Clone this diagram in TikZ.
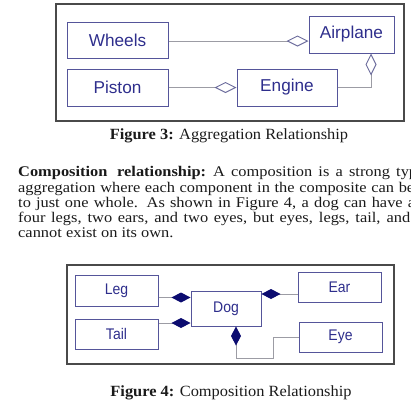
\documentclass[tikz,border=0pt]{standalone}
\usepackage{fontspec}
\setmainfont{Liberation Serif}
\setsansfont{Liberation Sans}
\usetikzlibrary{arrows.meta}
\definecolor{txtc}{HTML}{2E2E8C}
\definecolor{boxc}{HTML}{55559A}
\definecolor{linec}{HTML}{9C9CA4}
\definecolor{diac}{HTML}{6C6C9C}
\definecolor{navy}{HTML}{0C0C70}
\definecolor{framec}{HTML}{4A4A4A}
\definecolor{bodyc}{HTML}{1A1A1A}
\tikzset{
  frame/.style={draw=framec, line width=1.5pt},
  boxA/.style={draw=boxc, line width=1pt, text=txtc, inner sep=0pt,
    font=\fontsize{17.2}{20}\selectfont\sffamily},
  boxB/.style={draw=boxc, line width=1pt, text=txtc, inner sep=0pt,
    font=\fontsize{14}{16}\selectfont\sffamily},
  agg/.style={draw=linec, line width=1pt,
    -{Diamond[open, length=22pt, width=11pt, color=diac, line width=1pt]}},
  comp/.style={draw=linec, line width=1pt,
    -{Diamond[length=19pt, width=10pt, color=navy]}},
  bodyline/.style={anchor=base west, inner sep=0pt, text=bodyc,
    font=\fontsize{16.4}{19}\selectfont},
  caption/.style={anchor=base, inner sep=0pt, text=bodyc,
    font=\fontsize{16.4}{19}\selectfont}
}
\newcommand{\sq}[1]{\scalebox{1}[0.9]{#1}}
\newcommand{\sqc}[1]{\scalebox{1}[0.95]{#1}}
\newcommand{\tl}[1]{\scalebox{1}[1.1]{#1}}
\begin{document}
\begin{tikzpicture}[x=1pt, y=-1pt]
\useasboundingbox (0,0) rectangle (410,418);
% ---------- Figure 3 ----------
\draw[frame] (56,4) rectangle (404,121);
\node[boxA, minimum width=101pt, minimum height=36pt] (wheels) at (117.5,40) {Wheels};
\node[boxA, minimum width=85pt, minimum height=37pt] (airplane) at (351.5,34.5) {Airplane};
\node[boxA, minimum width=101pt, minimum height=37pt] (piston) at (117.5,87.5) {Piston};
\node[boxA, minimum width=100pt, minimum height=37pt] (engine) at (287,87.5) {Engine};
\draw[agg] ([yshift=-1pt]wheels.east) -- ([yshift=-1pt]wheels.east -| airplane.west);
\draw[agg] (piston.east) -- (engine.west);
\draw[agg] (engine.east) -| ([xshift=19.5pt]airplane.south);
\node[caption] (cap3) at (229,139.3) {\sqc{\textbf{Figure 3:} Aggregation Relationship}};
% ---------- Paragraph ----------
\node[bodyline] (l1) at (18,176.8) {\sq{\makebox[399pt][s]{\makebox[188pt][s]{\textbf{Composition relationship:}}\hspace{7pt}A composition is a strong typ}}};
\node[bodyline] (l2) at (18,192.0) {\sq{\makebox[396pt][s]{aggregation where each component in the composite can be}}};
\node[bodyline] (l3) at (18,207.2) {\sq{\makebox[397pt][s]{to just one whole. As shown in Figure 4, a dog can have a}}};
\node[bodyline] (l4) at (18,222.4) {\sq{\makebox[392pt][s]{four legs, two ears, and two eyes, but eyes, legs, tail, and}}};
\node[bodyline] (l5) at (18,237.6) {\sq{cannot exist on its own.}};
% ---------- Figure 4 ----------
\draw[frame] (67,265) rectangle (394,364);
\node[boxB, minimum width=83pt, minimum height=31pt] (leg) at (116.5,290.5) {\tl{Leg}};
\node[boxB, minimum width=83pt, minimum height=30pt] (tail) at (116.5,334) {\tl{Tail}};
\node[boxB, minimum width=70pt, minimum height=35pt] (dog) at (226,308.5) {\tl{Dog}};
\node[boxB, minimum width=83pt, minimum height=30pt] (ear) at (339.5,287) {\tl{Ear}};
\node[boxB, minimum width=83pt, minimum height=30pt] (eye) at (340.5,337) {\tl{Eye}};
\draw[comp] ([yshift=-7pt]leg.east) -- ([yshift=-7pt]leg.east -| dog.west);
\draw[comp] ([yshift=11pt]tail.east) -- ([yshift=11pt]tail.east -| dog.west);
\draw[comp] ([yshift=-7pt]ear.west) -- ([yshift=-7pt]ear.west -| dog.east);
\coordinate (ebend) at (273,358);
\draw[comp] (eye.west) -| (ebend) -| ([xshift=10pt]dog.south);
\node[caption] (cap4) at (231,396) {\sqc{\textbf{Figure 4:} Composition Relationship}};
\end{tikzpicture}
\end{document}
